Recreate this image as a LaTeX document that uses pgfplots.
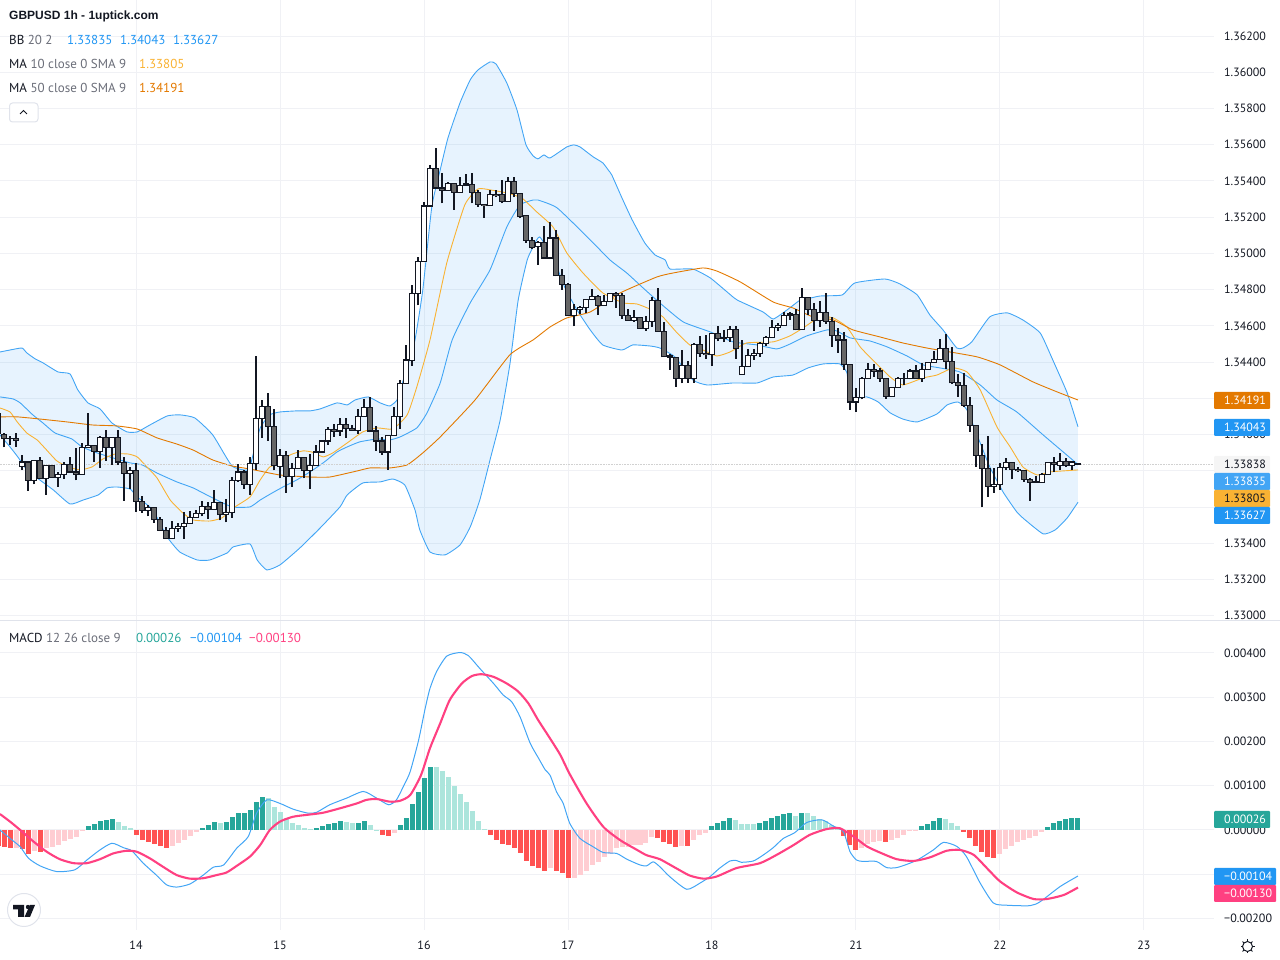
\documentclass[border=0pt]{standalone}
\usepackage{fontspec}
\setmainfont{PT Sans}
\newfontfamily\titlef{Liberation Sans}
\usepackage{pgfplots}
\usepackage{pgfplotstable}
\pgfplotsset{compat=1.18}
\definecolor{gridc}{HTML}{F0F1F5}
\definecolor{sepc}{HTML}{E0E3EB}
\definecolor{bbc}{HTML}{2196F3}
\definecolor{bbl}{HTML}{42A5F5}
\definecolor{maa}{HTML}{F9B233}
\definecolor{mab}{HTML}{E37900}
\definecolor{txt}{HTML}{131722}
\definecolor{gry}{HTML}{6A6D78}
\definecolor{dng}{HTML}{666666}
\definecolor{hg}{HTML}{26A69A}
\definecolor{hlg}{HTML}{ACE5DC}
\definecolor{hr}{HTML}{FF5252}
\definecolor{hp}{HTML}{FFCDD2}
\definecolor{sig}{HTML}{FF4081}
\pgfplotstableread{
k o h l c
-23 1.34115 1.34130 1.33989 1.34008
-22 1.34002 1.34008 1.33929 1.33978
-21 1.33982 1.33993 1.33943 1.33978
-20 1.33980 1.34011 1.33934 1.33969
-19 1.33824 1.33888 1.33805 1.33848
-18 1.33848 1.33851 1.33691 1.33748
-17 1.33748 1.33861 1.33726 1.33857
-16 1.33857 1.33875 1.33756 1.33759
-15 1.33759 1.33831 1.33667 1.33831
-14 1.33831 1.33831 1.33761 1.33765
-13 1.33765 1.33793 1.33712 1.33781
-12 1.33781 1.33850 1.33754 1.33837
-11 1.33835 1.33877 1.33791 1.33793
-10 1.33793 1.33925 1.33747 1.33781
-9 1.33781 1.33953 1.33780 1.33931
-8 1.33929 1.34118 1.33927 1.33940
-7 1.33942 1.33945 1.33850 1.33908
-6 1.33908 1.33993 1.33818 1.33986
-5 1.33986 1.34026 1.33857 1.33931
-4 1.33931 1.33986 1.33835 1.33986
-3 1.33986 1.34026 1.33835 1.33848
-2 1.33846 1.33875 1.33636 1.33787
-1 1.33787 1.33820 1.33702 1.33804
0 1.33804 1.33842 1.33575 1.33632
1 1.33632 1.33662 1.33570 1.33583
2 1.33583 1.33612 1.33548 1.33597
3 1.33597 1.33603 1.33513 1.33531
4 1.33531 1.33544 1.33467 1.33472
5 1.33472 1.33489 1.33425 1.33428
6 1.33428 1.33524 1.33426 1.33482
7 1.33482 1.33511 1.33465 1.33494
8 1.33494 1.33572 1.33426 1.33509
9 1.33509 1.33577 1.33507 1.33542
10 1.33542 1.33585 1.33540 1.33566
11 1.33566 1.33636 1.33548 1.33605
12 1.33605 1.33627 1.33533 1.33588
13 1.33588 1.33695 1.33586 1.33627
14 1.33627 1.33629 1.33526 1.33559
15 1.33559 1.33645 1.33515 1.33572
16 1.33572 1.33765 1.33542 1.33748
17 1.33748 1.33839 1.33741 1.33793
18 1.33793 1.33802 1.33702 1.33726
19 1.33726 1.33875 1.33664 1.33840
20 1.33840 1.34435 1.33802 1.34091
21 1.34091 1.34192 1.33984 1.34157
22 1.34157 1.34232 1.33967 1.34046
23 1.34046 1.34142 1.33802 1.33827
24 1.33826 1.33919 1.33758 1.33885
25 1.33885 1.33908 1.33680 1.33770
26 1.33770 1.33842 1.33713 1.33815
27 1.33815 1.33916 1.33813 1.33875
28 1.33875 1.33875 1.33759 1.33804
29 1.33804 1.33892 1.33702 1.33831
30 1.33831 1.33942 1.33829 1.33903
31 1.33903 1.33964 1.33901 1.33964
32 1.33964 1.34041 1.33945 1.34030
33 1.34030 1.34059 1.33989 1.34019
34 1.34019 1.34091 1.33993 1.34057
35 1.34057 1.34091 1.33984 1.34034
36 1.34035 1.34054 1.34023 1.34024
37 1.34024 1.34140 1.34004 1.34102
38 1.34102 1.34197 1.34100 1.34151
39 1.34151 1.34207 1.34013 1.34019
40 1.34019 1.34048 1.33912 1.33964
41 1.33964 1.33986 1.33890 1.33903
42 1.33903 1.34000 1.33807 1.33997
43 1.33997 1.34155 1.33993 1.34102
44 1.34102 1.34302 1.34030 1.34284
45 1.34284 1.34495 1.34280 1.34411
46 1.34409 1.34825 1.34379 1.34781
47 1.34781 1.34979 1.34713 1.34957
48 1.34957 1.35285 1.34955 1.35261
49 1.35261 1.35489 1.35259 1.35471
50 1.35471 1.35581 1.35358 1.35360
51 1.35360 1.35443 1.35276 1.35349
52 1.35349 1.35393 1.35345 1.35388
53 1.35388 1.35391 1.35242 1.35338
54 1.35338 1.35421 1.35336 1.35377
55 1.35384 1.35439 1.35375 1.35377
56 1.35382 1.35443 1.35276 1.35338
57 1.35338 1.35351 1.35259 1.35272
58 1.35272 1.35272 1.35198 1.35265
59 1.35266 1.35351 1.35263 1.35327
60 1.35327 1.35351 1.35309 1.35320
61 1.35322 1.35403 1.35276 1.35287
62 1.35287 1.35421 1.35283 1.35399
63 1.35399 1.35421 1.35309 1.35333
64 1.35333 1.35336 1.35193 1.35204
65 1.35206 1.35208 1.35060 1.35073
66 1.35073 1.35090 1.35027 1.35033
67 1.35035 1.35066 1.34937 1.35062
68 1.35062 1.35152 1.34972 1.34974
69 1.34974 1.35176 1.34968 1.35084
70 1.35084 1.35127 1.34873 1.34878
71 1.34880 1.34915 1.34799 1.34830
72 1.34830 1.34836 1.34657 1.34659
73 1.34659 1.34722 1.34597 1.34690
74 1.34690 1.34711 1.34663 1.34701
75 1.34701 1.34751 1.34674 1.34747
76 1.34747 1.34804 1.34743 1.34762
77 1.34762 1.34771 1.34662 1.34714
78 1.34714 1.34771 1.34712 1.34736
79 1.34736 1.34780 1.34734 1.34780
80 1.34780 1.34786 1.34701 1.34769
81 1.34769 1.34780 1.34640 1.34659
82 1.34659 1.34692 1.34629 1.34631
83 1.34631 1.34686 1.34622 1.34648
84 1.34648 1.34651 1.34583 1.34587
85 1.34587 1.34657 1.34574 1.34625
86 1.34625 1.34760 1.34596 1.34741
87 1.34741 1.34808 1.34568 1.34570
88 1.34570 1.34622 1.34429 1.34430
89 1.34434 1.34443 1.34357 1.34429
90 1.34427 1.34430 1.34265 1.34311
91 1.34311 1.34467 1.34283 1.34383
92 1.34383 1.34405 1.34287 1.34311
93 1.34309 1.34508 1.34287 1.34498
94 1.34498 1.34544 1.34430 1.34449
95 1.34449 1.34550 1.34416 1.34441
96 1.34441 1.34563 1.34381 1.34559
97 1.34559 1.34600 1.34515 1.34532
98 1.34539 1.34578 1.34511 1.34532
99 1.34537 1.34600 1.34513 1.34581
100 1.34581 1.34600 1.34418 1.34476
101 1.34333 1.34522 1.34331 1.34377
102 1.34377 1.34473 1.34375 1.34436
103 1.34436 1.34473 1.34412 1.34447
104 1.34449 1.34513 1.34430 1.34504
105 1.34504 1.34544 1.34489 1.34537
106 1.34537 1.34633 1.34535 1.34590
107 1.34590 1.34618 1.34574 1.34603
108 1.34603 1.34677 1.34602 1.34659
109 1.34666 1.34679 1.34633 1.34660
110 1.34664 1.34694 1.34576 1.34579
111 1.34579 1.34808 1.34578 1.34758
112 1.34758 1.34762 1.34660 1.34692
113 1.34692 1.34725 1.34574 1.34631
114 1.34629 1.34738 1.34596 1.34675
115 1.34675 1.34784 1.34611 1.34626
116 1.34626 1.34651 1.34486 1.34548
117 1.34548 1.34587 1.34453 1.34521
118 1.34521 1.34565 1.34357 1.34388
119 1.34388 1.34388 1.34136 1.34179
120 1.34179 1.34256 1.34127 1.34206
121 1.34206 1.34320 1.34195 1.34311
122 1.34311 1.34394 1.34309 1.34361
123 1.34361 1.34388 1.34320 1.34350
124 1.34350 1.34366 1.34293 1.34311
125 1.34311 1.34311 1.34199 1.34212
126 1.34212 1.34261 1.34210 1.34261
127 1.34261 1.34317 1.34259 1.34311
128 1.34311 1.34342 1.34274 1.34313
129 1.34309 1.34364 1.34305 1.34350
130 1.34350 1.34385 1.34309 1.34311
131 1.34311 1.34394 1.34293 1.34361
132 1.34361 1.34403 1.34359 1.34399
133 1.34399 1.34462 1.34397 1.34416
134 1.34416 1.34526 1.34412 1.34477
135 1.34477 1.34554 1.34363 1.34405
136 1.34405 1.34482 1.34278 1.34287
137 1.34289 1.34335 1.34210 1.34271
138 1.34272 1.34339 1.34155 1.34162
139 1.34162 1.34208 1.34017 1.34052
140 1.34052 1.34052 1.33823 1.33886
141 1.33886 1.33949 1.33599 1.33812
142 1.33814 1.33993 1.33658 1.33715
143 1.33715 1.33814 1.33680 1.33726
144 1.33726 1.33842 1.33695 1.33820
145 1.33818 1.33869 1.33805 1.33847
146 1.33847 1.33851 1.33753 1.33809
147 1.33809 1.33820 1.33796 1.33801
148 1.33801 1.33805 1.33739 1.33752
149 1.33752 1.33759 1.33636 1.33737
150 1.33737 1.33772 1.33735 1.33739
151 1.33737 1.33787 1.33735 1.33781
152 1.33781 1.33851 1.33779 1.33845
153 1.33845 1.33875 1.33796 1.33833
154 1.33831 1.33897 1.33805 1.33853
155 1.33851 1.33869 1.33820 1.33827
156 1.33829 1.33855 1.33805 1.33849
157 1.33835 1.33842 1.33830 1.33838
}\cdl
\pgfplotstableread{
k v t
-23 -0.00036 2
-22 -0.00038 2
-21 -0.00041 2
-20 -0.00041 3
-19 -0.00044 2
-18 -0.00054 2
-17 -0.00047 3
-16 -0.00050 2
-15 -0.00041 3
-14 -0.00038 3
-13 -0.00035 3
-12 -0.00026 3
-11 -0.00020 3
-10 -0.00016 3
-9 -0.00002 3
-8 0.00009 0
-7 0.00014 0
-6 0.00021 0
-5 0.00023 0
-4 0.00025 0
-3 0.00018 1
-2 0.00009 1
-1 0.00005 1
0 -0.00011 2
1 -0.00023 2
2 -0.00027 2
3 -0.00032 2
4 -0.00036 2
5 -0.00041 2
6 -0.00036 3
7 -0.00029 3
8 -0.00023 3
9 -0.00014 3
10 -0.00005 3
11 0.00005 0
12 0.00011 0
13 0.00018 0
14 0.00016 1
15 0.00018 0
16 0.00029 0
17 0.00038 0
18 0.00038 0
19 0.00045 0
20 0.00063 0
21 0.00075 0
22 0.00072 1
23 0.00052 1
24 0.00041 1
25 0.00027 1
26 0.00016 1
27 0.00011 1
28 0.00005 1
29 0.00002 1
30 0.00005 0
31 0.00009 0
32 0.00014 0
33 0.00016 0
34 0.00020 0
35 0.00018 1
36 0.00016 1
37 0.00016 0
38 0.00020 0
39 0.00011 1
40 0.00001 1
41 -0.00011 2
42 -0.00014 2
43 -0.00007 3
44 0.00011 0
45 0.00027 0
46 0.00059 0
47 0.00086 0
48 0.00117 0
49 0.00142 0
50 0.00142 1
51 0.00133 1
52 0.00120 1
53 0.00099 1
54 0.00081 1
55 0.00063 1
56 0.00043 1
57 0.00020 1
58 0.00002 1
59 -0.00011 2
60 -0.00023 2
61 -0.00032 2
62 -0.00034 2
63 -0.00041 2
64 -0.00052 2
65 -0.00070 2
66 -0.00081 2
67 -0.00086 2
68 -0.00093 2
69 -0.00086 3
70 -0.00093 2
71 -0.00097 2
72 -0.00108 2
73 -0.00108 3
74 -0.00102 3
75 -0.00093 3
76 -0.00079 3
77 -0.00072 3
78 -0.00061 3
79 -0.00054 3
80 -0.00041 3
81 -0.00038 3
82 -0.00038 3
83 -0.00034 3
84 -0.00034 3
85 -0.00029 3
86 -0.00016 3
87 -0.00018 2
88 -0.00027 2
89 -0.00032 2
90 -0.00038 2
91 -0.00036 3
92 -0.00036 2
93 -0.00023 3
94 -0.00012 3
95 -0.00006 3
96 0.00008 0
97 0.00015 0
98 0.00020 0
99 0.00026 0
100 0.00022 1
101 0.00013 1
102 0.00013 1
103 0.00013 1
104 0.00015 0
105 0.00020 0
106 0.00026 0
107 0.00031 0
108 0.00035 0
109 0.00038 0
110 0.00031 1
111 0.00038 0
112 0.00038 1
113 0.00031 1
114 0.00024 1
115 0.00020 1
116 0.00011 1
117 0.00006 1
118 -0.00014 2
119 -0.00035 2
120 -0.00046 2
121 -0.00041 3
122 -0.00032 3
123 -0.00028 3
124 -0.00026 3
125 -0.00028 2
126 -0.00023 3
127 -0.00017 3
128 -0.00012 3
129 -0.00003 3
130 -0.00001 3
131 0.00008 0
132 0.00013 0
133 0.00020 0
134 0.00026 0
135 0.00024 1
136 0.00015 1
137 0.00008 1
138 -0.00005 2
139 -0.00019 2
140 -0.00037 2
141 -0.00050 2
142 -0.00062 2
143 -0.00064 2
144 -0.00055 3
145 -0.00044 3
146 -0.00037 3
147 -0.00028 3
148 -0.00023 3
149 -0.00019 3
150 -0.00014 3
151 -0.00005 3
152 0.00006 0
153 0.00015 0
154 0.00020 0
155 0.00024 0
156 0.00026 0
157 0.00026 0
}\hist
\newcommand\pl[6]{\fill[#4,rounded corners=1pt] (#1,{960-#3}) rectangle (#2,{960-#3-17});
  \node[anchor=west,inner sep=0pt,text=#5,font=\fontsize{12}{14}\selectfont] at (1224,{960-#3-8.5}) {#6};}
\newcommand\lb[4]{\node[anchor=base west,inner sep=0pt,text=#3,font=\fontsize{13}{15}\selectfont] at (#1,{960-#2}) {#4};}
\newcommand\candle[1]{%
  \pgfplotstablegetelem{#1}{k}\of\cdl\let\cK\pgfplotsretval
  \pgfplotstablegetelem{#1}{o}\of\cdl\let\cO\pgfplotsretval
  \pgfplotstablegetelem{#1}{h}\of\cdl\let\cH\pgfplotsretval
  \pgfplotstablegetelem{#1}{l}\of\cdl\let\cL\pgfplotsretval
  \pgfplotstablegetelem{#1}{c}\of\cdl\let\cC\pgfplotsretval
  \ifdim\cO pt<\cC pt \let\cT\cC\let\cB\cO\def\cF{white}\else\let\cT\cO\let\cB\cC\def\cF{dng}\fi
  \pgfmathsetmacro\cTa{\cT+0.00003}\pgfmathsetmacro\cBa{\cB-0.00003}%
  \pgfmathsetmacro\cTi{\cT-0.00003}\pgfmathsetmacro\cBi{\cB+0.00003}%
  \edef\cTmp{\noexpand\addplot[txt,line width=1.15pt] coordinates {(\cK,\cL)(\cK,\cH)};
    \noexpand\addplot[txt,line width=5.4pt] coordinates {(\cK,\cBa)(\cK,\cTa)};}\cTmp
  \ifdim\cTi pt>\cBi pt
    \edef\cTmp{\noexpand\addplot[\cF,line width=3.4pt] coordinates {(\cK,\cBi)(\cK,\cTi)};}\cTmp
  \fi}
\pgfplotsset{tv/.style={
  scale only axis, width=1214pt, anchor=south west,
  xmin=-22.667, xmax=179.667,
  axis line style={draw=none}, major tick length=0pt,
  tick style={draw=none},
  grid=major, grid style={gridc, line width=1pt},
  xtick={0,24,48,72,96,120,144,168},
  yticklabel pos=right,
  y tick label style={anchor=west, inner sep=0pt, xshift=10pt, font=\fontsize{12}{14}\selectfont, text=txt},
  clip=true,
}}
\begin{document}
\begin{tikzpicture}[x=1pt,y=1pt]
\path[use as bounding box] (0,0) rectangle (1280,960);
\begin{axis}[tv, at={(0pt,339.5pt)}, height=620.5pt,
  ymin=1.32974, ymax=1.36399,
  xticklabels={},
  ytick={1.33,1.332,1.334,1.336,1.338,1.34,1.342,1.344,1.346,1.348,1.35,1.352,1.354,1.356,1.358,1.36,1.362},
  scaled y ticks=false,
  y tick label style={/pgf/number format/.cd, fixed, fixed zerofill, precision=5, assume math mode=true},
]
\addplot[draw=none, fill=bbc, fill opacity=0.11] coordinates {
(-22.67,1.34456)(-21,1.34467)(-19,1.34478)(-18.2,1.34451)(-16.8,1.34418)(-15.5,1.34396)(-13,1.34346)(-11,1.34335)(-9.7,1.34247)(-8,1.34175)(-6,1.34142)(-4,1.34064)(-1.5,1.34015)(0.2,1.34015)(2.3,1.34053)(5.2,1.34103)(7.3,1.34109)(9.8,1.34092)(12.8,1.33998)(16,1.33827)(18.7,1.33805)(19.5,1.33888)(20.7,1.34037)(22.3,1.34109)(24,1.34125)(26.8,1.34131)(29,1.34131)(30.7,1.34142)(33.5,1.34175)(35.2,1.34164)(36.5,1.34191)(38.7,1.34208)(40.7,1.34175)(42.3,1.34158)(43.5,1.34191)(44.3,1.34274)(45.3,1.34385)(46.5,1.34523)(47.8,1.34799)(49.3,1.35257)(50.7,1.35461)(52,1.35638)(54,1.35831)(55.7,1.35958)(57,1.36013)(59,1.36057)(60,1.36046)(61.8,1.35941)(63.5,1.35792)(65,1.35599)(66.2,1.35538)(67,1.35522)(68,1.35544)(69,1.35527)(71.8,1.35588)(73,1.35599)(74,1.35588)(76.2,1.35533)(77.8,1.35500)(78.7,1.35461)(79.3,1.35433)(81,1.35306)(82.7,1.35185)(84.8,1.35058)(86.5,1.34992)(88.2,1.34964)(89,1.34914)(92.8,1.34914)(95.7,1.34865)(98.5,1.34788)(100.2,1.34743)(104.5,1.34677)(106.2,1.34638)(108.5,1.34688)(110.7,1.34743)(111.8,1.34749)(114,1.34765)(117.7,1.34771)(119.8,1.34837)(124.8,1.34859)(127.3,1.34832)(130.2,1.34771)(132.3,1.34661)(134.5,1.34578)(136.8,1.34478)(137.8,1.34478)(139.3,1.34512)(142.3,1.34650)(145.2,1.34672)(147.8,1.34633)(150.7,1.34561)(152.8,1.34412)(155.2,1.34230)(157,1.34043)
(157,1.33627)(155.2,1.33540)(153.2,1.33474)(151.2,1.33452)(148.2,1.33529)(146.8,1.33573)(144.5,1.33684)(142.3,1.33822)(140.7,1.33954)(138.5,1.34136)(137,1.34180)(135.2,1.34164)(133.5,1.34114)(130.2,1.34070)(127.8,1.34086)(125.7,1.34120)(123.7,1.34180)(121.8,1.34208)(119,1.34202)(118.5,1.34340)(117.3,1.34390)(114.5,1.34390)(112,1.34368)(109.5,1.34329)(106.2,1.34318)(103.5,1.34285)(99.5,1.34285)(95.2,1.34274)(92.8,1.34302)(89.8,1.34429)(87.3,1.34478)(85.7,1.34489)(82.8,1.34495)(81,1.34467)(77.8,1.34495)(75.7,1.34578)(73.5,1.34688)(71.5,1.34810)(69.8,1.34953)(67.3,1.35091)(66.2,1.35036)(65.2,1.34964)(63.7,1.34743)(62.3,1.34385)(60.7,1.34081)(59,1.33860)(57.3,1.33639)(55.7,1.33490)(54,1.33391)(51.5,1.33336)(49,1.33352)(47.3,1.33474)(46.5,1.33584)(44.8,1.33722)(42.8,1.33755)(40.7,1.33739)(37.8,1.33733)(35.2,1.33667)(34,1.33601)(30.7,1.33485)(27.3,1.33374)(24,1.33281)(21.8,1.33253)(20.2,1.33308)(19,1.33396)(16.2,1.33380)(15.2,1.33347)(12.3,1.33308)(10.2,1.33308)(7.3,1.33352)(5.2,1.33435)(2.8,1.33584)(0.2,1.33656)(-1,1.33700)(-3.2,1.33711)(-4.8,1.33706)(-6.3,1.33667)(-8.8,1.33639)(-11,1.33617)(-13.8,1.33695)(-16.5,1.33761)(-18.2,1.33805)(-19.7,1.33877)(-21,1.33932)(-22.67,1.33998)};
\addplot[bbl, line width=0.9pt, smooth, tension=0.3] coordinates {
(-22.67,1.34456)(-21,1.34467)(-19,1.34478)(-18.2,1.34451)(-16.8,1.34418)(-15.5,1.34396)(-13,1.34346)(-11,1.34335)(-9.7,1.34247)(-8,1.34175)(-6,1.34142)(-4,1.34064)(-1.5,1.34015)(0.2,1.34015)(2.3,1.34053)(5.2,1.34103)(7.3,1.34109)(9.8,1.34092)(12.8,1.33998)(16,1.33827)(18.7,1.33805)(19.5,1.33888)(20.7,1.34037)(22.3,1.34109)(24,1.34125)(26.8,1.34131)(29,1.34131)(30.7,1.34142)(33.5,1.34175)(35.2,1.34164)(36.5,1.34191)(38.7,1.34208)(40.7,1.34175)(42.3,1.34158)(43.5,1.34191)(44.3,1.34274)(45.3,1.34385)(46.5,1.34523)(47.8,1.34799)(49.3,1.35257)(50.7,1.35461)(52,1.35638)(54,1.35831)(55.7,1.35958)(57,1.36013)(59,1.36057)(60,1.36046)(61.8,1.35941)(63.5,1.35792)(65,1.35599)(66.2,1.35538)(67,1.35522)(68,1.35544)(69,1.35527)(71.8,1.35588)(73,1.35599)(74,1.35588)(76.2,1.35533)(77.8,1.35500)(78.7,1.35461)(79.3,1.35433)(81,1.35306)(82.7,1.35185)(84.8,1.35058)(86.5,1.34992)(88.2,1.34964)(89,1.34914)(92.8,1.34914)(95.7,1.34865)(98.5,1.34788)(100.2,1.34743)(104.5,1.34677)(106.2,1.34638)(108.5,1.34688)(110.7,1.34743)(111.8,1.34749)(114,1.34765)(117.7,1.34771)(119.8,1.34837)(124.8,1.34859)(127.3,1.34832)(130.2,1.34771)(132.3,1.34661)(134.5,1.34578)(136.8,1.34478)(137.8,1.34478)(139.3,1.34512)(142.3,1.34650)(145.2,1.34672)(147.8,1.34633)(150.7,1.34561)(152.8,1.34412)(155.2,1.34230)(157,1.34043)};
\addplot[bbl, line width=0.9pt, smooth, tension=0.3] coordinates {
(-22.67,1.33998)(-21,1.33932)(-19.7,1.33877)(-18.2,1.33805)(-16.5,1.33761)(-13.8,1.33695)(-11,1.33617)(-8.8,1.33639)(-6.3,1.33667)(-4.8,1.33706)(-3.2,1.33711)(-1,1.33700)(0.2,1.33656)(2.8,1.33584)(5.2,1.33435)(7.3,1.33352)(10.2,1.33308)(12.3,1.33308)(15.2,1.33347)(16.2,1.33380)(19,1.33396)(20.2,1.33308)(21.8,1.33253)(24,1.33281)(27.3,1.33374)(30.7,1.33485)(34,1.33601)(35.2,1.33667)(37.8,1.33733)(40.7,1.33739)(42.8,1.33755)(44.8,1.33722)(46.5,1.33584)(47.3,1.33474)(49,1.33352)(51.5,1.33336)(54,1.33391)(55.7,1.33490)(57.3,1.33639)(59,1.33860)(60.7,1.34081)(62.3,1.34385)(63.7,1.34743)(65.2,1.34964)(66.2,1.35036)(67.3,1.35091)(69.8,1.34953)(71.5,1.34810)(73.5,1.34688)(75.7,1.34578)(77.8,1.34495)(81,1.34467)(82.8,1.34495)(85.7,1.34489)(87.3,1.34478)(89.8,1.34429)(92.8,1.34302)(95.2,1.34274)(99.5,1.34285)(103.5,1.34285)(106.2,1.34318)(109.5,1.34329)(112,1.34368)(114.5,1.34390)(117.3,1.34390)(118.5,1.34340)(119,1.34202)(121.8,1.34208)(123.7,1.34180)(125.7,1.34120)(127.8,1.34086)(130.2,1.34070)(133.5,1.34114)(135.2,1.34164)(137,1.34180)(138.5,1.34136)(140.7,1.33954)(142.3,1.33822)(144.5,1.33684)(146.8,1.33573)(148.2,1.33529)(151.2,1.33452)(153.2,1.33474)(155.2,1.33540)(157,1.33627)};
\addplot[bbl, line width=0.9pt, smooth, tension=0.3] coordinates {
(-22.67,1.34208)(-20.5,1.34197)(-19.3,1.34175)(-17.2,1.34109)(-15.5,1.34064)(-13.5,1.34009)(-10.7,1.33976)(-9,1.33932)(-6.5,1.33899)(-3.8,1.33871)(-1,1.33844)(1,1.33833)(3.5,1.33788)(6.8,1.33739)(9.5,1.33706)(12.8,1.33650)(16,1.33601)(19,1.33601)(20.7,1.33639)(22.7,1.33678)(24.5,1.33711)(26.8,1.33750)(29,1.33794)(31.2,1.33844)(33.5,1.33904)(35.2,1.33932)(37.3,1.33960)(40.2,1.33976)(42.3,1.33971)(44,1.33987)(46.8,1.34037)(48.5,1.34120)(50.7,1.34285)(52.7,1.34523)(55.7,1.34727)(59,1.34909)(61.8,1.35146)(64,1.35268)(66.2,1.35295)(67,1.35295)(70.2,1.35251)(75.7,1.35075)(79,1.34964)(81.8,1.34892)(84.5,1.34810)(87.3,1.34727)(91.2,1.34622)(95.7,1.34567)(99.5,1.34512)(103.5,1.34495)(106.8,1.34473)(109,1.34500)(111.8,1.34545)(115.2,1.34578)(116.8,1.34572)(119,1.34534)(122.3,1.34517)(125.2,1.34484)(128.5,1.34434)(131.2,1.34385)(134,1.34368)(137.3,1.34346)(140.7,1.34274)(143.5,1.34191)(146.8,1.34125)(151.2,1.33998)(157,1.33835)};
\addplot[maa, line width=0.9pt, smooth, tension=0.3] coordinates {
(-22.67,1.34147)(-21,1.34125)(-19.8,1.34070)(-18.2,1.34009)(-16.5,1.33971)(-15.2,1.33926)(-13.2,1.33855)(-11.3,1.33822)(-9.3,1.33805)(-7.3,1.33822)(-5.5,1.33866)(-3.5,1.33893)(-1.3,1.33893)(0.2,1.33877)(1.8,1.33822)(3.5,1.33761)(5.7,1.33639)(7.8,1.33568)(9.5,1.33529)(12.3,1.33523)(14.3,1.33540)(16.5,1.33601)(19,1.33656)(20.7,1.33750)(22.3,1.33822)(24,1.33838)(25.7,1.33888)(27.8,1.33910)(29.3,1.33904)(31.2,1.33877)(32.8,1.33899)(35.2,1.33954)(37.8,1.34015)(40.2,1.34037)(42.8,1.34031)(45.2,1.34109)(46.8,1.34263)(49,1.34523)(51.8,1.34948)(54.8,1.35268)(57,1.35356)(59,1.35351)(61.8,1.35334)(64.3,1.35306)(66.8,1.35229)(69.5,1.35146)(71.8,1.35003)(74.5,1.34892)(77.8,1.34782)(81.2,1.34727)(83.5,1.34721)(86,1.34688)(87.8,1.34650)(90.2,1.34561)(92.3,1.34495)(94.5,1.34467)(96.8,1.34434)(99,1.34456)(101.8,1.34506)(106.2,1.34512)(109,1.34545)(111.2,1.34589)(114,1.34650)(116.2,1.34644)(118.5,1.34594)(120.7,1.34484)(122.8,1.34412)(125.7,1.34318)(127.8,1.34274)(131.2,1.34313)(133.5,1.34329)(136.2,1.34368)(138.5,1.34346)(140.7,1.34247)(143.5,1.34042)(145.7,1.33932)(147.8,1.33822)(150.2,1.33777)(152.3,1.33794)(157,1.33805)};
\addplot[mab, line width=0.9pt, smooth, tension=0.3] coordinates {
(-22.67,1.34098)(-19.8,1.34098)(-16,1.34086)(-11.5,1.34070)(-7.2,1.34053)(-3.2,1.34048)(0.2,1.34031)(3.5,1.33982)(6.8,1.33948)(9.5,1.33915)(12.8,1.33860)(16,1.33827)(19,1.33810)(24,1.33777)(29,1.33766)(32.3,1.33766)(36.8,1.33799)(39,1.33816)(42.3,1.33816)(45.2,1.33833)(47.8,1.33899)(50.7,1.33987)(56.5,1.34191)(62.3,1.34440)(66.2,1.34523)(69,1.34594)(71.8,1.34644)(75.7,1.34677)(80.7,1.34782)(86.8,1.34870)(89.5,1.34892)(94.5,1.34920)(96.8,1.34903)(100.7,1.34843)(106.2,1.34732)(109.5,1.34699)(112.8,1.34650)(116.2,1.34633)(119.5,1.34578)(124,1.34539)(127.8,1.34506)(131.8,1.34478)(135.7,1.34456)(140.2,1.34429)(144,1.34385)(149.5,1.34291)(153.5,1.34236)(157,1.34191)};
\addplot[black!18, densely dotted, line width=0.6pt] coordinates {(-23,1.33838)(180,1.33838)};
\pgfplotsinvokeforeach{0,...,180}{\candle{#1}}
\end{axis}
\begin{axis}[tv, at={(0pt,30pt)}, height=309pt,
  ymin=-0.00226, ymax=0.004723,
  xticklabels={14,15,16,17,18,21,22,23},
  x tick label style={anchor=center, yshift=-15pt, font=\fontsize{12}{14}\selectfont, text=txt},
  ytick={-0.002,-0.001,0,0.001,0.002,0.003,0.004},
  yticklabels={−0.00200,−0.00100,0.00000,0.00100,0.00200,0.00300,0.00400},
  scaled y ticks=false,
]
\addplot[ycomb, hg, line width=5pt, mark=none, restrict expr to domain={\thisrow{t}}{0:0}] table[x=k,y=v] {\hist};
\addplot[ycomb, hlg, line width=5pt, mark=none, restrict expr to domain={\thisrow{t}}{1:1}] table[x=k,y=v] {\hist};
\addplot[ycomb, hr, line width=5pt, mark=none, restrict expr to domain={\thisrow{t}}{2:2}] table[x=k,y=v] {\hist};
\addplot[ycomb, hp, line width=5pt, mark=none, restrict expr to domain={\thisrow{t}}{3:3}] table[x=k,y=v] {\hist};
\addplot[bbl, line width=1pt, smooth, tension=0.4] coordinates {
(-22.67,0)(-21,-0.00019)(-19.3,-0.00038)(-17.9,-0.00064)(-16,-0.00081)(-13.2,-0.00094)(-10.2,-0.00090)(-8.2,-0.00068)(-6,-0.00045)(-4,-0.00030)(-2.1,-0.00040)(-0.7,-0.00047)(1.2,-0.00075)(3.4,-0.00102)(5.1,-0.00124)(6.8,-0.00129)(9,-0.00122)(11.2,-0.00102)(12.9,-0.00084)(14.6,-0.00079)(16.8,-0.00041)(18.7,-0.00015)(20.1,0.00038)(21.8,0.00068)(24,0.00060)(26.2,0.00047)(28.7,0.00038)(30.1,0.00040)(32.3,0.00057)(35.1,0.00072)(37.9,0.00087)(40.1,0.00072)(42.1,0.00057)(43.4,0.00068)(44.8,0.00105)(45.7,0.00132)(47.1,0.00203)(48.2,0.00275)(49,0.00320)(50.1,0.00358)(51.8,0.00393)(54,0.00401)(55.4,0.00394)(57.3,0.00365)(59.6,0.00331)(61.2,0.00305)(62.6,0.00290)(64,0.00256)(65.7,0.00196)(67.1,0.00162)(68.2,0.00136)(69,0.00124)(70.1,0.00086)(71.2,0.00060)(72.3,0.00015)(74,-0.00019)(76.2,-0.00038)(77.9,-0.00051)(80.1,-0.00053)(81.8,-0.00066)(84,-0.00079)(85.1,-0.00081)(86.2,-0.00072)(87.3,-0.00083)(89,-0.00106)(91.8,-0.00134)(94,-0.00120)(95.7,-0.00105)(97.3,-0.00086)(99,-0.00070)(100.1,-0.00069)(100.9,-0.00073)(102.9,-0.00070)(104.6,-0.00056)(106.2,-0.00040)(107.9,-0.00019)(109.8,-0.00006)(111.8,0.00017)(114.3,0.00023)(116.2,0.00009)(117.9,-0.00004)(119,-0.00049)(120.1,-0.00068)(121.2,-0.00071)(123.4,-0.00071)(125.1,-0.00085)(126.8,-0.00085)(129,-0.00075)(130.7,-0.00064)(132.9,-0.00045)(134.6,-0.00028)(136.8,-0.00037)(138.4,-0.00060)(140.7,-0.00120)(142.9,-0.00165)(145.1,-0.00170)(149,-0.00171)(150.7,-0.00162)(154,-0.00128)(157,-0.00104)};
\addplot[sig, line width=2.1pt, smooth, tension=0.4] coordinates {
(-22.67,0.00036)(-21,0.00019)(-19.3,0)(-17.1,-0.00026)(-14.9,-0.00049)(-12.7,-0.00066)(-10.4,-0.00075)(-8.2,-0.00075)(-6,-0.00066)(-3.8,-0.00053)(-1.6,-0.00047)(0.1,-0.00049)(2.3,-0.00064)(4.6,-0.00084)(6.8,-0.00102)(9,-0.00110)(11.2,-0.00109)(13.4,-0.00102)(15.1,-0.00096)(16.8,-0.00081)(19,-0.00060)(20.7,-0.00034)(22.3,0)(24,0.00019)(26.2,0.00030)(29,0.00035)(31.2,0.00039)(34,0.00049)(36.8,0.00060)(38.4,0.00068)(40.1,0.00070)(42.3,0.00064)(44,0.00066)(45.7,0.00079)(47.5,0.00124)(49,0.00185)(50.7,0.00241)(52.3,0.00294)(54.3,0.00331)(56,0.00348)(57.6,0.00352)(59.6,0.00346)(61.8,0.00331)(63.7,0.00313)(65.4,0.00286)(67,0.00249)(69,0.00207)(70.7,0.00170)(72.3,0.00126)(75.1,0.00060)(77.9,0.00007)(80.7,-0.00023)(83.5,-0.00045)(85.1,-0.00057)(87.3,-0.00066)(90.1,-0.00087)(92.3,-0.00103)(94.6,-0.00110)(96.8,-0.00105)(100.1,-0.00086)(104,-0.00075)(106.8,-0.00056)(109.6,-0.00034)(112.3,-0.00011)(115.1,0.00002)(117.3,0.00004)(119.6,-0.00015)(121.8,-0.00037)(124,-0.00051)(126.8,-0.00066)(129.6,-0.00070)(132.3,-0.00062)(135.1,-0.00047)(137.3,-0.00045)(139.6,-0.00056)(141.8,-0.00086)(144,-0.00116)(146.8,-0.00141)(149.6,-0.00156)(151.8,-0.00156)(154.6,-0.00147)(157,-0.00130)};
\end{axis}
\draw[sepc, line width=1pt] (0,339) -- (1280,339);
\node[anchor=base west,inner sep=0pt,text=txt,font=\titlef\bfseries\fontsize{12}{14}\selectfont] at (9,{960-19.5}) {GBPUSD 1h - 1uptick.com};
\lb{9}{44.5}{txt}{BB \textcolor{gry}{20 2}}
\lb{67}{44.5}{bbc}{1.33835}\lb{120}{44.5}{bbc}{1.34043}\lb{173}{44.5}{bbc}{1.33627}
\lb{9}{68.5}{txt}{MA \textcolor{gry}{10 close 0 SMA 9}}
\lb{139}{68.5}{maa}{1.33805}
\lb{9}{92.5}{txt}{MA \textcolor{gry}{50 close 0 SMA 9}}
\lb{139}{92.5}{mab}{1.34191}
\draw[sepc, rounded corners=3pt, fill=white, line width=1pt] (9.5,{960-103}) rectangle (38,{960-122});
\draw[txt, line width=1pt] (20,{960-114}) -- (23.5,{960-110.5}) -- (27,{960-114});
\lb{9}{642.5}{txt}{MACD \textcolor{gry}{12 26 close 9}}
\lb{136}{642.5}{hg}{0.00026}\lb{190}{642.5}{bbc}{−0.00104}\lb{249}{642.5}{sig}{−0.00130}
\pl{1214}{1270}{392}{mab}{white}{1.34191}
\pl{1214}{1270}{419}{bbc}{white}{1.34043}
\pl{1214}{1270}{456}{black!4}{txt}{1.33838}
\pl{1214}{1270}{473}{bbl}{white}{1.33835}
\pl{1214}{1270}{490}{maa}{txt}{1.33805}
\pl{1214}{1270}{507}{bbc}{white}{1.33627}
\pl{1214}{1270}{811}{hg}{white}{0.00026}
\pl{1214}{1276}{868}{bbc}{white}{−0.00104}
\pl{1214}{1276}{885}{sig}{white}{−0.00130}
\draw[sepc, fill=white, line width=1pt] (24,{960-910}) circle (16.5);
\fill[txt] (13,{960-905}) -- (24,{960-905}) -- (24,{960-917}) -- (18,{960-917}) -- (18,{960-909.5}) -- (13,{960-909.5}) -- cycle;
\fill[txt] (28,{960-907}) circle (2.2);
\fill[txt] (30,{960-905}) -- (35,{960-905}) -- (30,{960-917}) -- (24.5,{960-917}) -- cycle;
\begin{scope}[shift={(1247.5,13.5)}]
\draw[txt, line width=1pt] (0,0) circle (5);
\foreach \a in {0,45,...,315} \draw[txt, line width=1pt] (\a:5) -- (\a:7);
\end{scope}
\end{tikzpicture}
\end{document}
